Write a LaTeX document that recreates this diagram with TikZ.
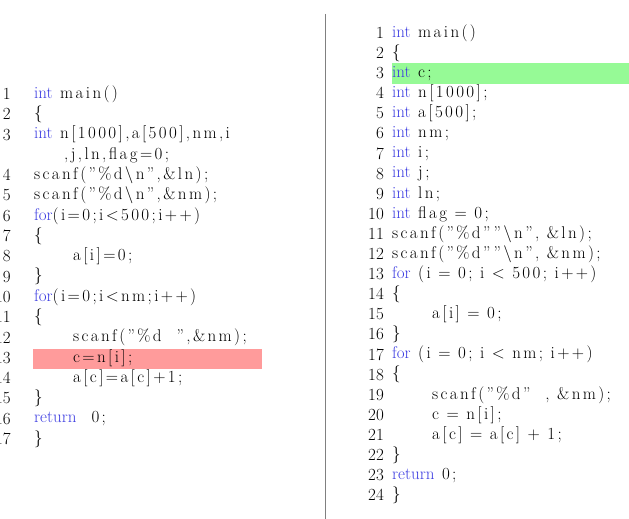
\documentclass[tikz,border=0pt]{standalone}
\usepackage{fontspec}
\newfontfamily\cs{Latin Modern Roman}[LetterSpace=14]
\definecolor{kw}{RGB}{60,60,225}
\definecolor{redhl}{RGB}{255,155,155}
\definecolor{greenhl}{RGB}{150,250,150}
\newcommand{\kw}[1]{{\rmfamily\addfontfeature{LetterSpace=0}\color{kw}#1}}
\begin{document}
\begin{tikzpicture}[x=1pt,y=-1pt,font=\fontsize{17}{19}\selectfont,
  num/.style={anchor=east,inner sep=0pt},
  code/.style={anchor=west,inner sep=0pt,font=\fontsize{17}{19}\selectfont\cs}]
\useasboundingbox (0,0) rectangle (629,519);
\fill[redhl] (33,349) rectangle (262,369);
\fill[greenhl] (392,63) rectangle (629,84);
\draw[gray,line width=1pt] (325,14) -- (325,519);
% left
\foreach \n/\r in {1/0,2/1,3/2,4/4,5/5,6/6,7/7,8/8,9/9,10/10,11/11,12/12,13/13,14/14,15/15,16/16,17/17}
  \node[num] (ln\n) at (11,94+20.3*\r) {\n};
\node[code] (l1) at (34,94) {\kw{int} main()};
\node[code] (l2) at (34,114.3) {\{};
\node[code] (l3) at (34,134.6) {\kw{int} n[1000],a[500],nm,i};
\node[code] (l3b) at (64,154.9) {,j,ln,flag=0;};
\node[code] (l4) at (34,175.2) {scanf(”\%d\textbackslash n”,\&ln);};
\node[code] (l5) at (34,195.5) {scanf(”\%d\textbackslash n”,\&nm);};
\node[code] (l6) at (34,215.8) {\kw{for}(i=0;i<500;i++)};
\node[code] (l7) at (34,236.1) {\{};
\node[code] (l8) at (73,256.4) {a[i]=0;};
\node[code] (l9) at (34,276.7) {\}};
\node[code] (l10) at (34,297) {\kw{for}(i=0;i<nm;i++)};
\node[code] (l11) at (34,317.3) {\{};
\node[code] (l12) at (73,337.6) {scanf(”\%d~~”,\&nm);};
\node[code] (l13) at (73,357.9) {c=n[i];};
\node[code] (l14) at (73,378.2) {a[c]=a[c]+1;};
\node[code] (l15) at (34,398.5) {\}};
\node[code] (l16) at (34,418.8) {\kw{return}~~0;};
\node[code] (l17) at (34,439.1) {\}};
% right
\foreach \n in {1,...,24}
  \node[num] (rn\n) at (384,33+20.1*\n-20.1) {\n};
\node[code] (r1) at (392,33) {\kw{int} main()};
\node[code] (r2) at (392,53.1) {\{};
\node[code] (r3) at (392,73.2) {\kw{int} c;};
\node[code] (r4) at (392,93.3) {\kw{int} n[1000];};
\node[code] (r5) at (392,113.4) {\kw{int} a[500];};
\node[code] (r6) at (392,133.5) {\kw{int} nm;};
\node[code] (r7) at (392,153.6) {\kw{int} i;};
\node[code] (r8) at (392,173.7) {\kw{int} j;};
\node[code] (r9) at (392,193.8) {\kw{int} ln;};
\node[code] (r10) at (392,213.9) {\kw{int} flag = 0;};
\node[code] (r11) at (392,234) {scanf(”\%d””\textbackslash n”, \&ln);};
\node[code] (r12) at (392,254.1) {scanf(”\%d””\textbackslash n”, \&nm);};
\node[code] (r13) at (392,274.2) {\kw{for} (i = 0; i < 500; i++)};
\node[code] (r14) at (392,294.3) {\{};
\node[code] (r15) at (432,314.4) {a[i] = 0;};
\node[code] (r16) at (392,334.5) {\}};
\node[code] (r17) at (392,354.6) {\kw{for} (i = 0; i < nm; i++)};
\node[code] (r18) at (392,374.7) {\{};
\node[code] (r19) at (432,394.8) {scanf(”\%d”~~, \&nm);};
\node[code] (r20) at (432,414.9) {c = n[i];};
\node[code] (r21) at (432,435) {a[c] = a[c] + 1;};
\node[code] (r22) at (392,455.1) {\}};
\node[code] (r23) at (392,475.2) {\kw{return} 0;};
\node[code] (r24) at (392,495.3) {\}};
\end{tikzpicture}
\end{document}
